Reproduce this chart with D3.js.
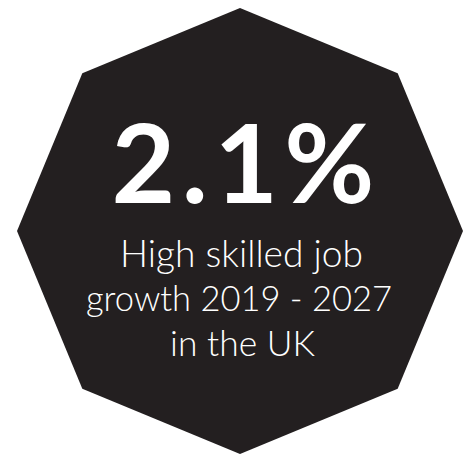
<!DOCTYPE html>
<html><head><meta charset="utf-8">
<script src="https://cdn.jsdelivr.net/npm/d3@7"></script>
<style>html,body{margin:0;padding:0;background:#fff;}svg{display:block;}</style>
</head><body>
<svg id="c" width="465" height="456"></svg>
<script>
const headline = "2.1%";
const captionLines = ["High skilled job", "growth 2019 - 2027", "in the UK"];
const sides = d3.range(8);

const svg = d3.select("#c");
const cx = 240, cy = 231, r = 223;
const ang = d3.scaleLinear().domain([0, 8]).range([0, 2 * Math.PI]);
const pts = sides.map(i => [cx + r * Math.sin(ang(i)), cy - r * Math.cos(ang(i))]);
svg.append("path")
  .attr("d", d3.line()(pts) + "Z")
  .attr("fill", "#231f20");

const font = "Lato, 'Noto Sans', sans-serif";
function fit(sel, w) {
  const l = sel.node().getComputedTextLength();
  const fs = parseFloat(sel.attr("font-size"));
  sel.attr("font-size", fs * w / l);
}
const h = svg.append("text").text(headline)
  .attr("x", 243).attr("y", 203).attr("text-anchor", "middle")
  .attr("fill", "#fff").attr("font-family", font).attr("font-weight", 700)
  .attr("font-size", 110)
  .attr("textLength", 263).attr("lengthAdjust", "spacing");

const widths = [243, 306, 145];
const ys = [267, 311, 356];
const xs = [241.5, 239, 242.5];
captionLines.forEach((t, i) => {
  const s = svg.append("text").text(t)
    .attr("x", xs[i]).attr("y", ys[i]).attr("text-anchor", "middle")
    .attr("fill", "#fff").attr("font-family", font).attr("font-weight", 300)
    .attr("font-size", 34);
  fit(s, widths[i]);
});
</script>
</body></html>
